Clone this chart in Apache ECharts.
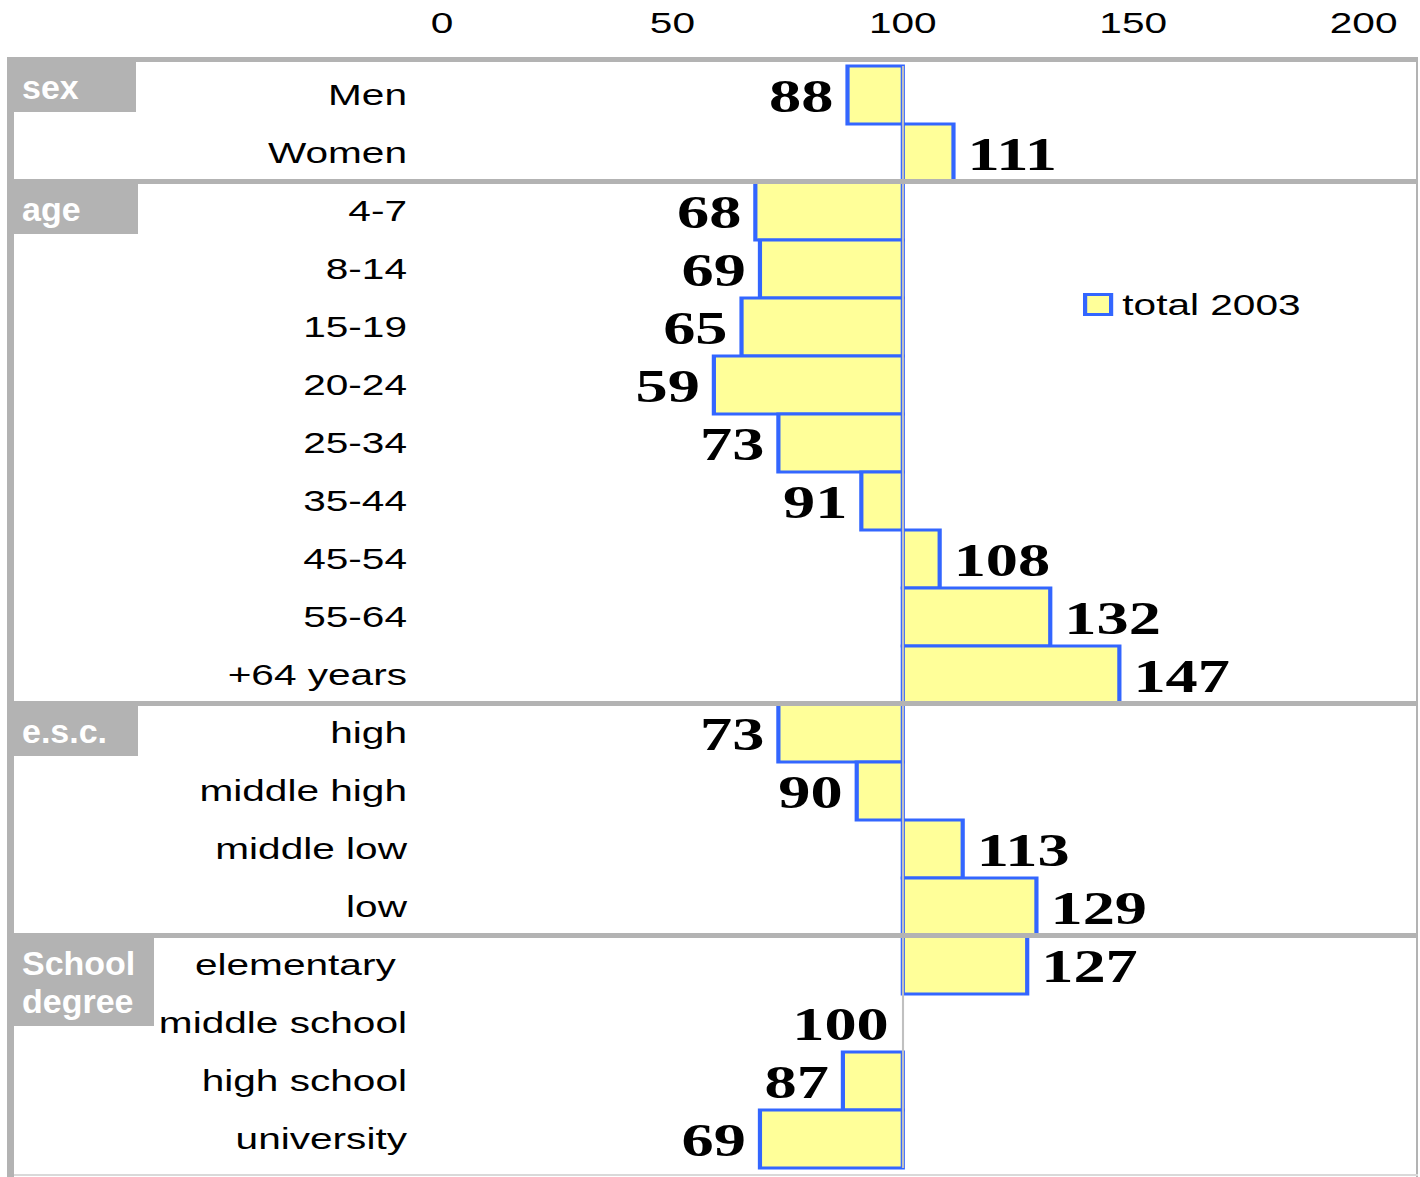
<!DOCTYPE html>
<html>
<head>
<meta charset="utf-8">
<title>total 2003</title>
<script src="https://cdn.jsdelivr.net/npm/echarts@6/dist/echarts.min.js"></script>
<style>
  html, body { margin: 0; padding: 0; background: #fff; overflow: hidden; }
  /* the chart is laid out narrow and widened horizontally */
  #chart { width: 1014.2857px; height: 1177px; transform: scaleX(1.4); transform-origin: 0 0; }
</style>
</head>
<body>
<div id="chart"></div>
<script>
// ---- data ----
const categories = ['Men', 'Women', '4-7', '8-14', '15-19', '20-24', '25-34', '35-44', '45-54',
  '55-64', '+64 years', 'high', 'middle high', 'middle low', 'low',
  'elementary ', 'middle school', 'high school', 'university'];
const values = [88, 111, 68, 69, 65, 59, 73, 91, 108, 132, 147, 73, 90, 113, 129, 127, 100, 87, 69];
const groupNames = ['sex', 'age', 'e.s.c.', 'School\ndegree'];
const groupSizes = [2, 9, 4, 4];
const axisMin = 0, axisMax = 200, axisStep = 50;
const baseline = 100;
const seriesName = 'total 2003';

// ---- layout helpers ----
const S = 1.4;                 // horizontal widening of the container
const X = px => px / S;        // page pixels -> chart pixels (horizontal only)
const GREY = '#b3b3b3';
const FILL = '#FFFF99';
const EDGE = '#3366FF';
const SANS = '"Liberation Sans", Arial, sans-serif';
const SERIF = '"Liberation Serif", "Times New Roman", serif';

const chart = echarts.init(document.getElementById('chart'), null, { renderer: 'svg' });

function renderBar(params, api) {
  const v = api.value(0);
  const c = api.value(1);
  const pBase = api.coord([baseline, c]);
  const pEnd = api.coord([v, c]);
  const h = api.size([0, 1])[1];
  const x0 = Math.min(pBase[0], pEnd[0]);
  const w = Math.abs(pEnd[0] - pBase[0]);
  const children = [];
  if (w > 0) {
    children.push({
      type: 'rect',
      shape: { x: x0, y: pBase[1] - h / 2, width: w, height: h },
      style: { fill: FILL, stroke: EDGE, lineWidth: 3 }
    });
  }
  const right = v > baseline;
  children.push({
    type: 'text',
    x: right ? pEnd[0] + 10 : pEnd[0] - 10,
    y: pBase[1] + 1,
    style: {
      text: String(v),
      font: 'bold 46px ' + SERIF,
      fill: '#000',
      align: right ? 'left' : 'right',
      verticalAlign: 'middle'
    }
  });
  return { type: 'group', children };
}

const option = {
  animation: false,
  backgroundColor: '#fff',
  grid: {
    left: X(442), right: X(1420 - 1364), top: 66, bottom: 9,
    containLabel: false, outerBoundsMode: 'none'
  },
  legend: {
    left: X(1076), top: 285,
    itemWidth: X(26), itemHeight: 20,
    textStyle: { fontFamily: SANS, fontSize: 29, color: '#000', padding: [0, 0, 0, 3] },
    data: [{
      name: seriesName, icon: 'rect',
      itemStyle: { color: FILL, borderColor: EDGE, borderWidth: 3 }
    }]
  },
  xAxis: {
    type: 'value', position: 'top',
    min: axisMin, max: axisMax, interval: axisStep,
    axisLine: { show: false }, axisTick: { show: false }, splitLine: { show: false },
    axisLabel: { fontFamily: SANS, fontSize: 29, color: '#000', margin: 29 }
  },
  yAxis: {
    type: 'category', inverse: true, data: categories,
    axisLine: { show: false }, axisTick: { show: false }, splitLine: { show: false },
    axisLabel: { fontFamily: SANS, fontSize: 29, color: '#000', margin: 25 }
  },
  series: [{
    type: 'custom',
    name: seriesName,
    renderItem: renderBar,
    encode: { x: 0, y: 1 },
    itemStyle: { color: FILL, borderColor: EDGE, borderWidth: 3 },
    data: values.map((v, i) => [v, i]),
    markLine: {
      silent: true, symbol: 'none', label: { show: false },
      lineStyle: { color: '#c0c0c0', width: 1.5, type: 'solid' },
      data: [{ xAxis: baseline }]
    },
    z: 3
  }]
};
chart.setOption(option);

// ---- frame, group separators and group tags ----
const yOf = i => chart.convertToPixel({ yAxisIndex: 0 }, categories[i]);
const band = yOf(1) - yOf(0);
const rowTop = k => (k < categories.length ? yOf(k) - band / 2 : yOf(categories.length - 1) + band / 2);

const frameTop = rowTop(0) - 9;
const graphics = [
  { type: 'rect', shape: { x: X(8), y: frameTop, width: X(1418 - 8), height: 5 }, style: { fill: GREY }, z: 10 },
  { type: 'rect', shape: { x: X(7), y: frameTop, width: X(7), height: 1177 - frameTop }, style: { fill: GREY }, z: 10 },
  { type: 'rect', shape: { x: X(1416), y: frameTop, width: X(2), height: 1177 - frameTop }, style: { fill: GREY }, z: 10 },
  { type: 'rect', shape: { x: X(14), y: 1174, width: X(1418 - 14), height: 2 }, style: { fill: '#d9d9d9' }, z: 10 }
];

const tagWidths = [129, 131, 131, 147];
let start = 0;
groupNames.forEach((name, g) => {
  const lineY = g === 0 ? frameTop : rowTop(start) - 3;
  if (g > 0) {
    graphics.push({ type: 'rect', shape: { x: X(7), y: lineY, width: X(1418 - 7), height: 5 }, style: { fill: GREY }, z: 10 });
  }
  const lines = name.split('\n').length;
  const boxH = lines > 1 ? 93 : 55;
  graphics.push({ type: 'rect', shape: { x: X(7), y: lineY, width: X(tagWidths[g]), height: boxH }, style: { fill: GREY }, z: 10 });
  graphics.push({
    type: 'text', x: X(22), y: lineY + boxH / 2 + 2, scaleX: 1 / S, z: 11,
    style: {
      text: name, font: 'bold 34px ' + SANS, fill: '#fff',
      align: 'left', verticalAlign: 'middle', lineHeight: 38
    }
  });
  start += groupSizes[g];
});

chart.setOption({ graphic: { elements: graphics } });
</script>
</body>
</html>
